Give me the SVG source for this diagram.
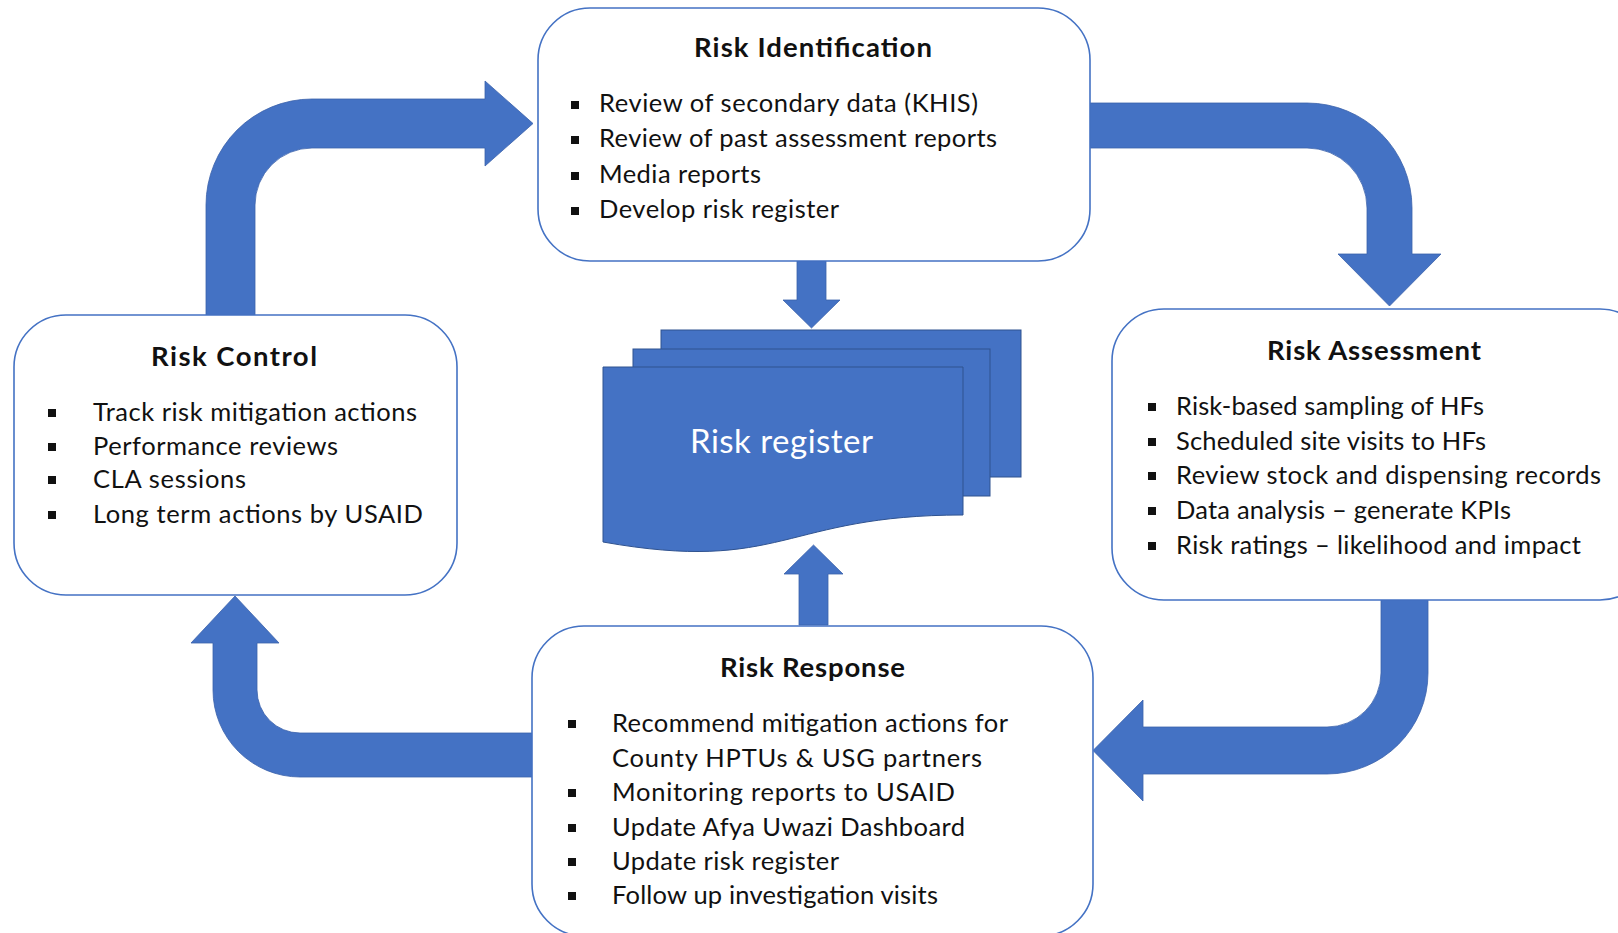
<svg xmlns="http://www.w3.org/2000/svg" width="1618" height="933" viewBox="0 0 1618 933">
<style>
.box{fill:#ffffff;stroke:#4472C4;stroke-width:1.6}
.arr{fill:#4472C4;stroke:#3B62AB;stroke-width:0.8}
.sheet{fill:#4472C4;stroke:#2F528F;stroke-width:1}
.t{font-family:Lato,"Open Sans","Liberation Sans",sans-serif;font-size:25.5px;fill:#111111}
.h{font-family:Lato,"Open Sans","Liberation Sans",sans-serif;font-size:27.5px;font-weight:bold;fill:#111111}
.rr{font-family:Lato,"Open Sans","Liberation Sans",sans-serif;font-size:33px;fill:#ffffff}
.b{fill:#111111}
</style>
<rect width="1618" height="933" fill="#ffffff"/>
<g id="connectors">
<path class="arr" d="M206,315 L206,205 A106,106 0 0 1 312,99 L485,99 L485,81 L533,123.5 L485,166 L485,148 L312,148 A57,57 0 0 0 255,205 L255,315 Z"/>
<path class="arr" d="M1090,103 L1307,103 A105,105 0 0 1 1412,208 L1412,254 L1441,254 L1389.5,306 L1338,254 L1367,254 L1367,208 A60,60 0 0 0 1307,148 L1090,148 Z"/>
<path class="arr" d="M1381,600 L1428,600 L1428,673 A101,101 0 0 1 1327,774 L1143,774 L1143,801 L1093,750.5 L1143,700 L1143,727 L1327,727 A54,54 0 0 0 1381,673 Z"/>
<path class="arr" d="M532,733 L532,777 L300,777 A87,87 0 0 1 213,690 L213,643 L191,643 L235,596 L279,643 L257,643 L257,690 A43,43 0 0 0 300,733 Z"/>
<path class="arr" d="M797,261 L826,261 L826,300 L840,300 L811.5,328 L783,300 L797,300 Z"/>
<path class="arr" d="M799,625 L799,574 L784,574 L813.5,545 L843,574 L828,574 L828,625 Z"/>
</g>
<g id="risk-register">
<rect class="sheet" x="661" y="330" width="360" height="147"/>
<rect class="sheet" x="633" y="349" width="357" height="147"/>
<path class="sheet" d="M603,367 H963 V515 C783,515 783,574 603,542 Z"/>
<text class="rr" x="690" y="453" textLength="183" lengthAdjust="spacing">Risk register</text>
</g>
<g id="risk-identification">
<rect class="box" x="538" y="8" width="552" height="253" rx="52" ry="52"/>
<text class="h" x="694" y="57" textLength="238" lengthAdjust="spacing">Risk Identification</text>
<rect class="b" x="571" y="101" width="8" height="8"/>
<text class="t" x="599" y="112" textLength="379" lengthAdjust="spacing">Review of secondary data (KHIS)</text>
<rect class="b" x="571" y="136" width="8" height="8"/>
<text class="t" x="599" y="147" textLength="398" lengthAdjust="spacing">Review of past assessment reports</text>
<rect class="b" x="571" y="172" width="8" height="8"/>
<text class="t" x="599" y="183" textLength="162" lengthAdjust="spacing">Media reports</text>
<rect class="b" x="571" y="207" width="8" height="8"/>
<text class="t" x="599" y="218" textLength="240" lengthAdjust="spacing">Develop risk register</text>
</g>
<g id="risk-control">
<rect class="box" x="14" y="315" width="443" height="280" rx="52" ry="52"/>
<text class="h" x="151" y="366" textLength="166" lengthAdjust="spacing">Risk Control</text>
<rect class="b" x="48" y="409" width="8" height="8"/>
<text class="t" x="93" y="421" textLength="324" lengthAdjust="spacing">Track risk mitigation actions</text>
<rect class="b" x="48" y="443" width="8" height="8"/>
<text class="t" x="93" y="455" textLength="245" lengthAdjust="spacing">Performance reviews</text>
<rect class="b" x="48" y="476" width="8" height="8"/>
<text class="t" x="93" y="488" textLength="153" lengthAdjust="spacing">CLA sessions</text>
<rect class="b" x="48" y="511" width="8" height="8"/>
<text class="t" x="93" y="523" textLength="330" lengthAdjust="spacing">Long term actions by USAID</text>
</g>
<g id="risk-assessment">
<rect class="box" x="1112" y="309" width="540" height="291" rx="52" ry="52"/>
<text class="h" x="1267" y="360" textLength="214" lengthAdjust="spacing">Risk Assessment</text>
<rect class="b" x="1148" y="403" width="8" height="8"/>
<text class="t" x="1176" y="415" textLength="308" lengthAdjust="spacing">Risk-based sampling of HFs</text>
<rect class="b" x="1148" y="438" width="8" height="8"/>
<text class="t" x="1176" y="450" textLength="310" lengthAdjust="spacing">Scheduled site visits to HFs</text>
<rect class="b" x="1148" y="472" width="8" height="8"/>
<text class="t" x="1176" y="484" textLength="425" lengthAdjust="spacing">Review stock and dispensing records</text>
<rect class="b" x="1148" y="507" width="8" height="8"/>
<text class="t" x="1176" y="519" textLength="335" lengthAdjust="spacing">Data analysis – generate KPIs</text>
<rect class="b" x="1148" y="542" width="8" height="8"/>
<text class="t" x="1176" y="554" textLength="405" lengthAdjust="spacing">Risk ratings – likelihood and impact</text>
</g>
<g id="risk-response">
<rect class="box" x="532" y="626" width="561" height="310" rx="52" ry="52"/>
<text class="h" x="720" y="677" textLength="185" lengthAdjust="spacing">Risk Response</text>
<rect class="b" x="568" y="720" width="8" height="8"/>
<text class="t" x="612" y="732" textLength="396" lengthAdjust="spacing">Recommend mitigation actions for</text>
<text class="t" x="612" y="767" textLength="370" lengthAdjust="spacing">County HPTUs &amp; USG partners</text>
<rect class="b" x="568" y="789" width="8" height="8"/>
<text class="t" x="612" y="801" textLength="343" lengthAdjust="spacing">Monitoring reports to USAID</text>
<rect class="b" x="568" y="824" width="8" height="8"/>
<text class="t" x="612" y="836" textLength="353" lengthAdjust="spacing">Update Afya Uwazi Dashboard</text>
<rect class="b" x="568" y="858" width="8" height="8"/>
<text class="t" x="612" y="870" textLength="227" lengthAdjust="spacing">Update risk register</text>
<rect class="b" x="568" y="892" width="8" height="8"/>
<text class="t" x="612" y="904" textLength="326" lengthAdjust="spacing">Follow up investigation visits</text>
</g>
</svg>
